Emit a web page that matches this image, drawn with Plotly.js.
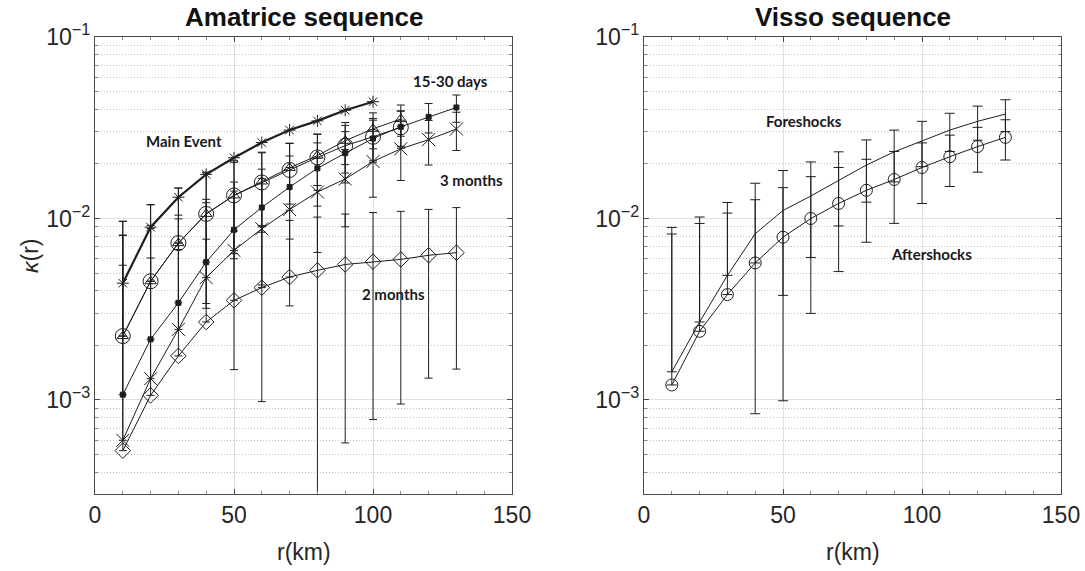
<!DOCTYPE html>
<html><head><meta charset="utf-8">
<script src="https://cdn.plot.ly/plotly-3.0.1.min.js"></script>
<style>html,body{margin:0;padding:0;background:#fff}#chart{width:1085px;height:571px}</style>
</head><body><div id="chart"></div>
<script>
// ---------- data ----------
const r = [10,20,30,40,50,60,70,80,90,100,110,120,130];
const rMain = [10,20,30,40,50,60,70,80,90,100];
const rCirc = [10,20,30,40,50,60,70,80,90,100,110];

// Amatrice sequence
const mainEvent    = [4.4e-3, 8.96e-3, 1.31e-2, 1.75e-2, 2.16e-2, 2.62e-2, 3.07e-2, 3.45e-2, 3.95e-2, 4.4e-2];
const circ         = [2.25e-3, 4.51e-3, 7.32e-3, 1.06e-2, 1.34e-2, 1.58e-2, 1.85e-2, 2.17e-2, 2.52e-2, 2.82e-2, 3.18e-2];
const circErr      = [7.4e-3, 7.4e-3, 7.4e-3, 7.4e-3, 7.4e-3, 7.4e-3, 7.4e-3, 7.4e-3, 7.4e-3, 7.4e-3, 7.4e-3];
const tri          = [2.25e-3, 4.51e-3, 7.32e-3, 1.06e-2, 1.34e-2, 1.60e-2, 1.90e-2, 2.22e-2, 2.68e-2, 3.12e-2, 3.53e-2];
const triErr       = [7.4e-3, 7.4e-3, 7.4e-3, 7.2e-3, 7.0e-3, 7.0e-3, 7.0e-3, 7.0e-3, 7.0e-3, 7.0e-3, 6.9e-3];
const days1530     = [1.07e-3, 2.16e-3, 3.43e-3, 5.75e-3, 8.67e-3, 1.15e-2, 1.49e-2, 1.89e-2, 2.29e-2, 2.76e-2, 3.2e-2, 3.63e-2, 4.09e-2];
const days1530Err  = [7.0e-3, 7.0e-3, 7.0e-3, 7.0e-3, 7.2e-3, 7.2e-3, 7.2e-3, 7.2e-3, 7.2e-3, 7.2e-3, 7.0e-3, 6.7e-3, 7.0e-3];
const months3      = [6.0e-4, 1.31e-3, 2.45e-3, 4.72e-3, 6.67e-3, 8.78e-3, 1.12e-2, 1.40e-2, 1.65e-2, 2.06e-2, 2.42e-2, 2.72e-2, 3.11e-2];
const months3Err   = [7.5e-3, 7.5e-3, 7.5e-3, 7.5e-3, 7.5e-3, 7.8e-3, 7.9e-3, 7.5e-3, 7.5e-3, 7.5e-3, 8.0e-3, 7.5e-3, 7.4e-3];
const months2      = [5.26e-4, 1.06e-3, 1.75e-3, 2.69e-3, 3.54e-3, 4.16e-3, 4.76e-3, 5.18e-3, 5.58e-3, 5.78e-3, 5.95e-3, 6.27e-3, 6.48e-3];
const months2Err   = [5.0e-3, 5.0e-3, 5.0e-3, 5.0e-3, 5.0e-3, 5.0e-3, 5.0e-3, 5.0e-3, 5.0e-3, 5.0e-3, 5.0e-3, 4.95e-3, 5.0e-3];

// Visso sequence
const foreshocks     = [1.43e-3, 2.69e-3, 4.86e-3, 8.24e-3, 1.107e-2, 1.33e-2, 1.62e-2, 1.97e-2, 2.33e-2, 2.68e-2, 3.07e-2, 3.43e-2, 3.76e-2];
const foreshocksErr  = [7.5e-3, 7.5e-3, 7.4e-3, 7.4e-3, 7.3e-3, 7.2e-3, 7.1e-3, 7.4e-3, 7.4e-3, 7.5e-3, 7.3e-3, 7.3e-3, 7.5e-3];
const aftershocks    = [1.21e-3, 2.39e-3, 3.81e-3, 5.69e-3, 7.89e-3, 1.0e-2, 1.21e-2, 1.43e-2, 1.64e-2, 1.91e-2, 2.19e-2, 2.49e-2, 2.80e-2];
const aftershocksErr = [7.0e-3, 7.0e-3, 6.9e-3, 7.0e-3, 6.9e-3, 7.0e-3, 7.0e-3, 6.9e-3, 7.0e-3, 7.0e-3, 6.9e-3, 6.9e-3, 7.0e-3];

const xTicks = [0, 50, 100, 150];

// ---------- helpers ----------
const INK = '#1e1e1e';
// on a log axis a negative lower bound is dropped: the bar then only goes up
function errBar(vals, errs, w) {
  if (!errs) return {visible:false};
  return {type:'data', symmetric:false, array:errs,
          arrayminus: errs.map((e,i)=> vals[i]-e > 0 ? e : 0),
          color:INK, thickness:1, width:w, visible:true};
}
function series(x, y, e, sym, size, lw, xa, ya, w) {
  const t = {type:'scatter', mode: sym ? 'lines+markers' : 'lines', x:x, y:y,
    xaxis:xa, yaxis:ya, showlegend:false, hoverinfo:'skip',
    line:{color:INK, width:lw},
    error_y: errBar(y, e, w)};
  if (sym) t.marker = {symbol:sym, size:size, color:INK, line:{color:INK, width:1}};
  return t;
}

const traces = [
  series(r, months2, months2Err, 'diamond-open', 12, 1, 'x', 'y', 4),
  series(r, months3, months3Err, 'x-thin-open', 13, 1, 'x', 'y', 4),
  series(r, days1530, days1530Err, 'square', 5, 1, 'x', 'y', 4),
  series(rCirc, tri, triErr, 'triangle-up-open', 10, 1, 'x', 'y', 4),
  series(rCirc, circ, circErr, 'circle-open', 15, 1, 'x', 'y', 4),
  series(rMain, mainEvent, null, 'asterisk-open', 10, 2.2, 'x', 'y', 4),
  series(r, foreshocks, foreshocksErr, null, 0, 1, 'x2', 'y2', 5),
  series(r, aftershocks, aftershocksErr, 'circle-open', 12, 1, 'x2', 'y2', 5)
];

const W = 1085, H = 571;
const FAM = 'Liberation Sans, Arial, sans-serif';
const tickFont = {family:FAM, size:23, color:'#262626'};
function xAxis(dom, anchor) {
  return {domain:dom, anchor:anchor, range:[0,150], tickvals:xTicks, ticktext:xTicks.map(String),
    showline:true, mirror:'allticks', linecolor:'#4a4a4a', linewidth:1,
    ticks:'inside', ticklen:5, tickcolor:'#4a4a4a', tickfont:tickFont,
    showgrid:true, gridcolor:'#e0e0e0', gridwidth:1, zeroline:false, automargin:false,
    minor:{dtick:10, tick0:0, ticks:'inside', ticklen:3, tickcolor:'#888', showgrid:false}};
}
function yAxis(anchor) {
  return {type:'log', domain:[77/H, 1-37/H], anchor:anchor, range:[-3.518,-1], dtick:1,
    exponentformat:'power', showexponent:'all',
    showline:true, mirror:'allticks', linecolor:'#4a4a4a', linewidth:1,
    ticks:'inside', ticklen:5, tickcolor:'#4a4a4a',
    tickfont:{family:FAM, size:18.5, color:'#262626'},
    showgrid:true, gridcolor:'#e0e0e0', gridwidth:1, zeroline:false, automargin:false,
    minor:{dtick:'D1', ticks:'inside', ticklen:3, tickcolor:'#888', showgrid:true,
           griddash:'1px,2px', gridcolor:'#c2c2c2', gridwidth:1}};
}

const txt = {family:'Lato, "Open Sans", sans-serif', size:15, color:'#1a1a1a'};
function pa(px, py, text, font, extra) {
  return Object.assign({xref:'paper', yref:'paper', x:px/W, y:1-py/H, xanchor:'center', yanchor:'middle',
    text:text, showarrow:false, font:font}, extra || {});
}
function da(xa, ya, x, y, text) {
  return {xref:xa, yref:ya, x:x, y:Math.log10(y), xanchor:'center', yanchor:'middle',
    text:'<b>'+text+'</b>', showarrow:false, font:txt};
}
const titleFont = {family:FAM, size:26, color:'#111'};
const labFont = {family:FAM, size:23, color:'#262626'};
const annotations = [
  pa(303.5, 17, '<b>Amatrice sequence</b>', titleFont),
  pa(852.5, 17, '<b>Visso sequence</b>', titleFont),
  pa(303.5, 552, 'r(km)', labFont),
  pa(852.5, 552, 'r(km)', labFont),
  pa(30, 256, '<i>κ</i>(r)', labFont, {textangle:-90}),
  da('x', 'y', 32, 2.68e-2, 'Main Event'),
  da('x', 'y', 128, 5.73e-2, '15-30 days'),
  da('x', 'y', 135.4, 1.62e-2, '3 months'),
  da('x', 'y', 107.5, 3.86e-3, '2 months'),
  da('x2', 'y2', 57.6, 3.45e-2, 'Foreshocks'),
  da('x2', 'y2', 103.5, 6.4e-3, 'Aftershocks')
];

const layout = {
  width:W, height:H, margin:{l:0, r:0, t:0, b:0, pad:0},
  paper_bgcolor:'#ffffff', plot_bgcolor:'#ffffff', showlegend:false,
  xaxis: xAxis([95/W, 512/W], 'y'),
  yaxis: yAxis('x'),
  xaxis2: xAxis([644/W, 1061/W], 'y2'),
  yaxis2: yAxis('x2'),
  annotations: annotations
};
Plotly.newPlot('chart', traces, layout, {staticPlot:true, displayModeBar:false});
</script>
</body></html>
